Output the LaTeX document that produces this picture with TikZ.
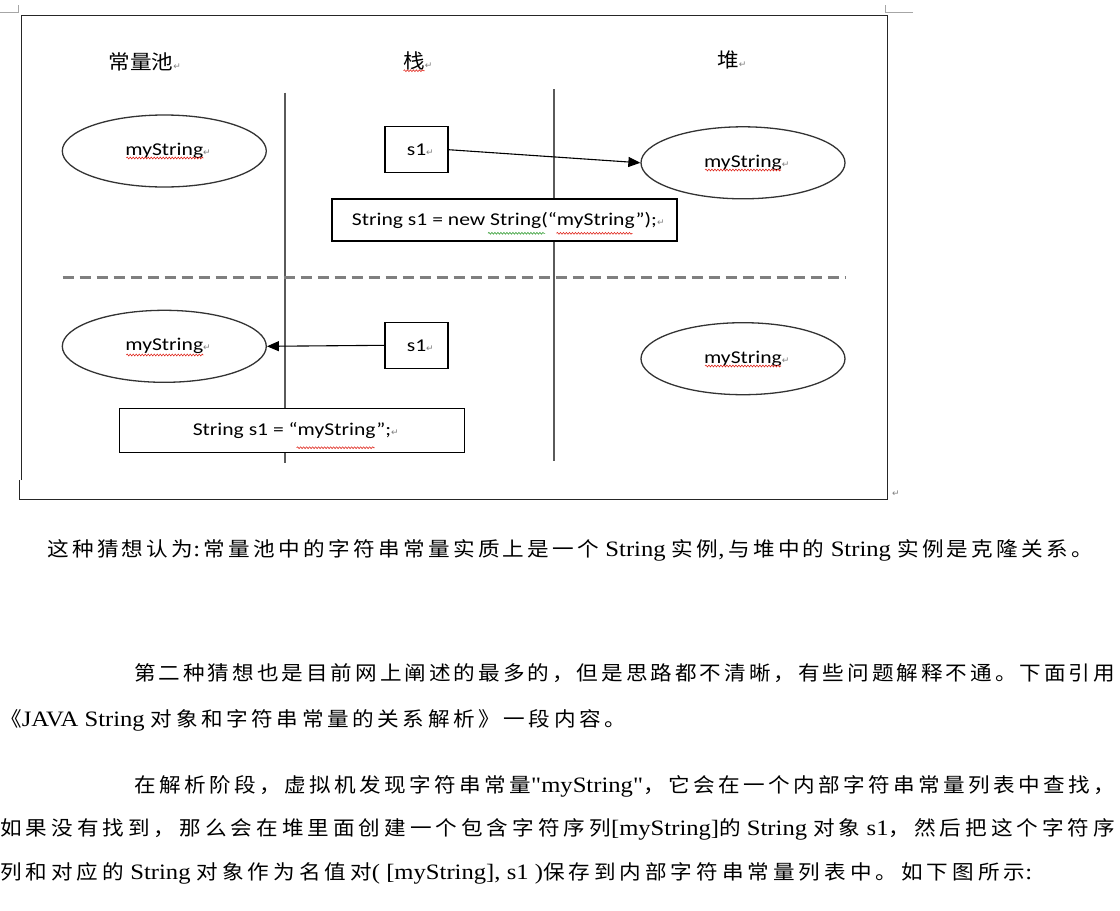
\documentclass[tikz,border=0pt]{standalone}
\usepackage{fontspec}
\setmainfont{Noto Sans CJK SC}[FakeStretch=1.08]
\newfontfamily\lat{Liberation Serif}[FakeStretch=1.12]
\newfontfamily\calib{Carlito}[FakeStretch=1.2]
\newfontfamily\symf{DejaVu Sans}
\usetikzlibrary{shapes.geometric,arrows.meta,decorations.pathmorphing}
% inter-character glue for CJK so that justified lines spread like the reference
\newXeTeXintercharclass\cjkcls
\count255="4E00
\loop \XeTeXcharclass\count255=\cjkcls \ifnum\count255<"9FFF \advance\count255 1 \repeat
\XeTeXcharclass"FF0C=\cjkcls
\XeTeXcharclass"3002=\cjkcls
\XeTeXcharclass"300A=\cjkcls
\XeTeXcharclass"300B=\cjkcls
\XeTeXinterchartoks\cjkcls\cjkcls={\hskip0pt plus 1fil\relax}
\XeTeXinterchartokenstate=1
\definecolor{retgray}{HTML}{7F7F7F}
\definecolor{ellgray}{HTML}{333333}
\definecolor{lanegray}{HTML}{5A5A5A}
\definecolor{dashgray}{HTML}{7F7F7F}
\definecolor{markgray}{HTML}{A6A6A6}
\definecolor{spellred}{HTML}{E0281E}
\definecolor{spellgreen}{HTML}{2E9A2E}
\newcommand\ret{{\color{retgray}\symf\fontsize{9}{9}\selectfont ↵}}
\newcommand\latx[1]{{\lat\fontsize{22}{24}\selectfont #1}}
\begin{document}
\begin{tikzpicture}[x=1pt,y=-1pt,
  pool/.style={ellipse, draw=ellgray, line width=1.3pt, minimum width=204pt,
    minimum height=72pt, inner sep=0pt, font=\calib\fontsize{18}{20}\selectfont},
  varbox/.style={rectangle, draw=black, line width=1.1pt, minimum width=63pt,
    minimum height=46pt, inner sep=0pt, font=\calib\fontsize{18}{20}\selectfont},
  codebox/.style={rectangle, draw=black, line width=1.1pt, inner sep=0pt,
    font=\calib\fontsize{18}{20}\selectfont},
  ptr/.style={-{Triangle[length=12pt,width=10pt]}, line width=1.1pt, draw=black},
  lane/.style={draw=lanegray, line width=2pt},
  divider/.style={draw=dashgray, line width=3pt, dash pattern=on 11pt off 6pt},
  frame/.style={draw=black!85, line width=1.4pt},
  cropmark/.style={draw=markgray, line width=1pt},
  head/.style={inner sep=0pt, font=\fontsize{20}{22}\selectfont},
  para/.style={anchor=base west, inner sep=0pt, font=\fontsize{20}{22}\selectfont},
  wavy/.style={draw=spellred, line width=0.6pt, decorate,
    decoration={snake, amplitude=0.9pt, segment length=3pt}}
]
\useasboundingbox (0,0) rectangle (1120,911);

% crop marks
\coordinate (cmA1) at (0,12.7); \coordinate (cmA2) at (18.6,12.7); \coordinate (cmA3) at (18.6,5);
\draw[cropmark] (cmA1) -- (cmA2) -- (cmA3);
\coordinate (cmB1) at (913,12.7); \coordinate (cmB2) at (885.7,12.7); \coordinate (cmB3) at (885.7,5);
\draw[cropmark] (cmB1) -- (cmB2) -- (cmB3);

% frame
\coordinate (frTL) at (21.4,15.7); \coordinate (frTR) at (887.5,15.7);
\coordinate (frBR) at (887.5,499.3); \coordinate (frBL) at (19.6,499.3);
\coordinate (frJ1) at (21.4,480); \coordinate (frJ2) at (19.6,480);
\draw[frame] (frJ1) -- (frTL) -- (frTR) -- (frBR) -- (frBL) -- (frJ2);
\node[inner sep=0pt] (frret) at (896,494) {\ret};

% headers
\node[head] (hpool) at (141,62) {常量池\rlap{\ret}};
\node[head] (hstack) at (414,61) {栈\rlap{\ret}};
\node[head] (hheap) at (728,60) {堆\rlap{\ret}};
\draw[wavy] ([shift={(-10.5,9.7)}]hstack.center) -- ++(21,0);

% lanes
\coordinate (l1a) at (284.6,92.7); \coordinate (l1b) at (284.6,463);
\coordinate (l2a) at (554.3,89); \coordinate (l2b) at (554.3,461);
\draw[lane] (l1a) -- (l1b);
\draw[lane] (l2a) -- (l2b);

% divider
\coordinate (dvA) at (62.5,277.7); \coordinate (dvB) at (845.7,277.7);
\draw[divider] (dvA) -- (dvB);

% top half
\node[pool, fill=white] (poolT) at (164.3,151) {\raisebox{4pt}{myString\rlap{\ret}}};
\node[varbox, fill=white] (s1T) at (416.5,149.7) {s1\rlap{\ret}};
\node[pool, fill=white] (heapT) at (743,162.8) {\raisebox{3pt}{myString\rlap{\ret}}};
\node[codebox, fill=white, minimum width=345pt, minimum height=42pt] (codeT) at (504.5,220)
  {\raisebox{-3pt}{String s1 = new String(“myString”);\rlap{\ret}}};
\draw[ptr] (s1T.east) -- (heapT.west);
\draw[wavy] ([shift={(-38,7)}]poolT.center) -- ++(77,0);
\draw[wavy] ([shift={(-38,7.2)}]heapT.center) -- ++(76,0);
\draw[wavy] ([shift={(52,13.3)}]codeT.center) -- ++(76,0);
\draw[wavy, draw=spellgreen] ([shift={(-16.5,13.3)}]codeT.center) -- ++(57,0);

% bottom half
\node[pool, fill=white] (poolB) at (164.3,346.3) {\raisebox{4pt}{myString\rlap{\ret}}};
\node[varbox, fill=white] (s1B) at (416.5,345.3) {s1\rlap{\ret}};
\node[pool, fill=white] (heapB) at (743,358.7) {\raisebox{3pt}{myString\rlap{\ret}}};
\node[codebox, fill=white, minimum width=345pt, minimum height=44pt] (codeB) at (292,430.5)
  {\raisebox{-2.5pt}{String s1 = “myString”;\rlap{\ret}}};
\draw[ptr] (s1B.west) -- (poolB.east);
\draw[wavy] ([shift={(-38,8.7)}]poolB.center) -- ++(77,0);
\draw[wavy] ([shift={(-38,7.3)}]heapB.center) -- ++(76,0);
\draw[wavy] ([shift={(4.7,17.2)}]codeB.center) -- ++(78,0);

% paragraphs
\node[para] (p1) at (47,556) {\hbox to 1046pt{这种猜想认为\latx{:\,}常量池中的字符串常量实质上是一个\latx{\ String }实例\latx{,\,}与堆中的\latx{\ String }实例是克隆关系。}};
\node[para] (p2) at (134,680) {\hbox to 981pt{第二种猜想也是目前网上阐述的最多的，但是思路都不清晰，有些问题解释不通。下面引用}};
\node[para] (p3) at (0,726) {\hbox to 626pt{《\latx{JAVA String }对象和字符串常量的关系解析》一段内容。}};
\node[para] (p4) at (134,792) {\hbox to 981pt{在解析阶段，虚拟机发现字符串常量\latx{"myString"}，它会在一个内部字符串常量列表中查找，}};
\node[para] (p5) at (0,835) {\hbox to 1115pt{如果没有找到，那么会在堆里面创建一个包含字符序列\latx{[myString]}的\latx{\ String }对象\latx{\ s1}，然后把这个字符序}};
\node[para] (p6) at (0,879) {\hbox to 1032pt{列和对应的\latx{\ String }对象作为名值对\latx{( [myString], s1 )}保存到内部字符串常量列表中。如下图所示\latx{:}}};
\end{tikzpicture}
\end{document}
